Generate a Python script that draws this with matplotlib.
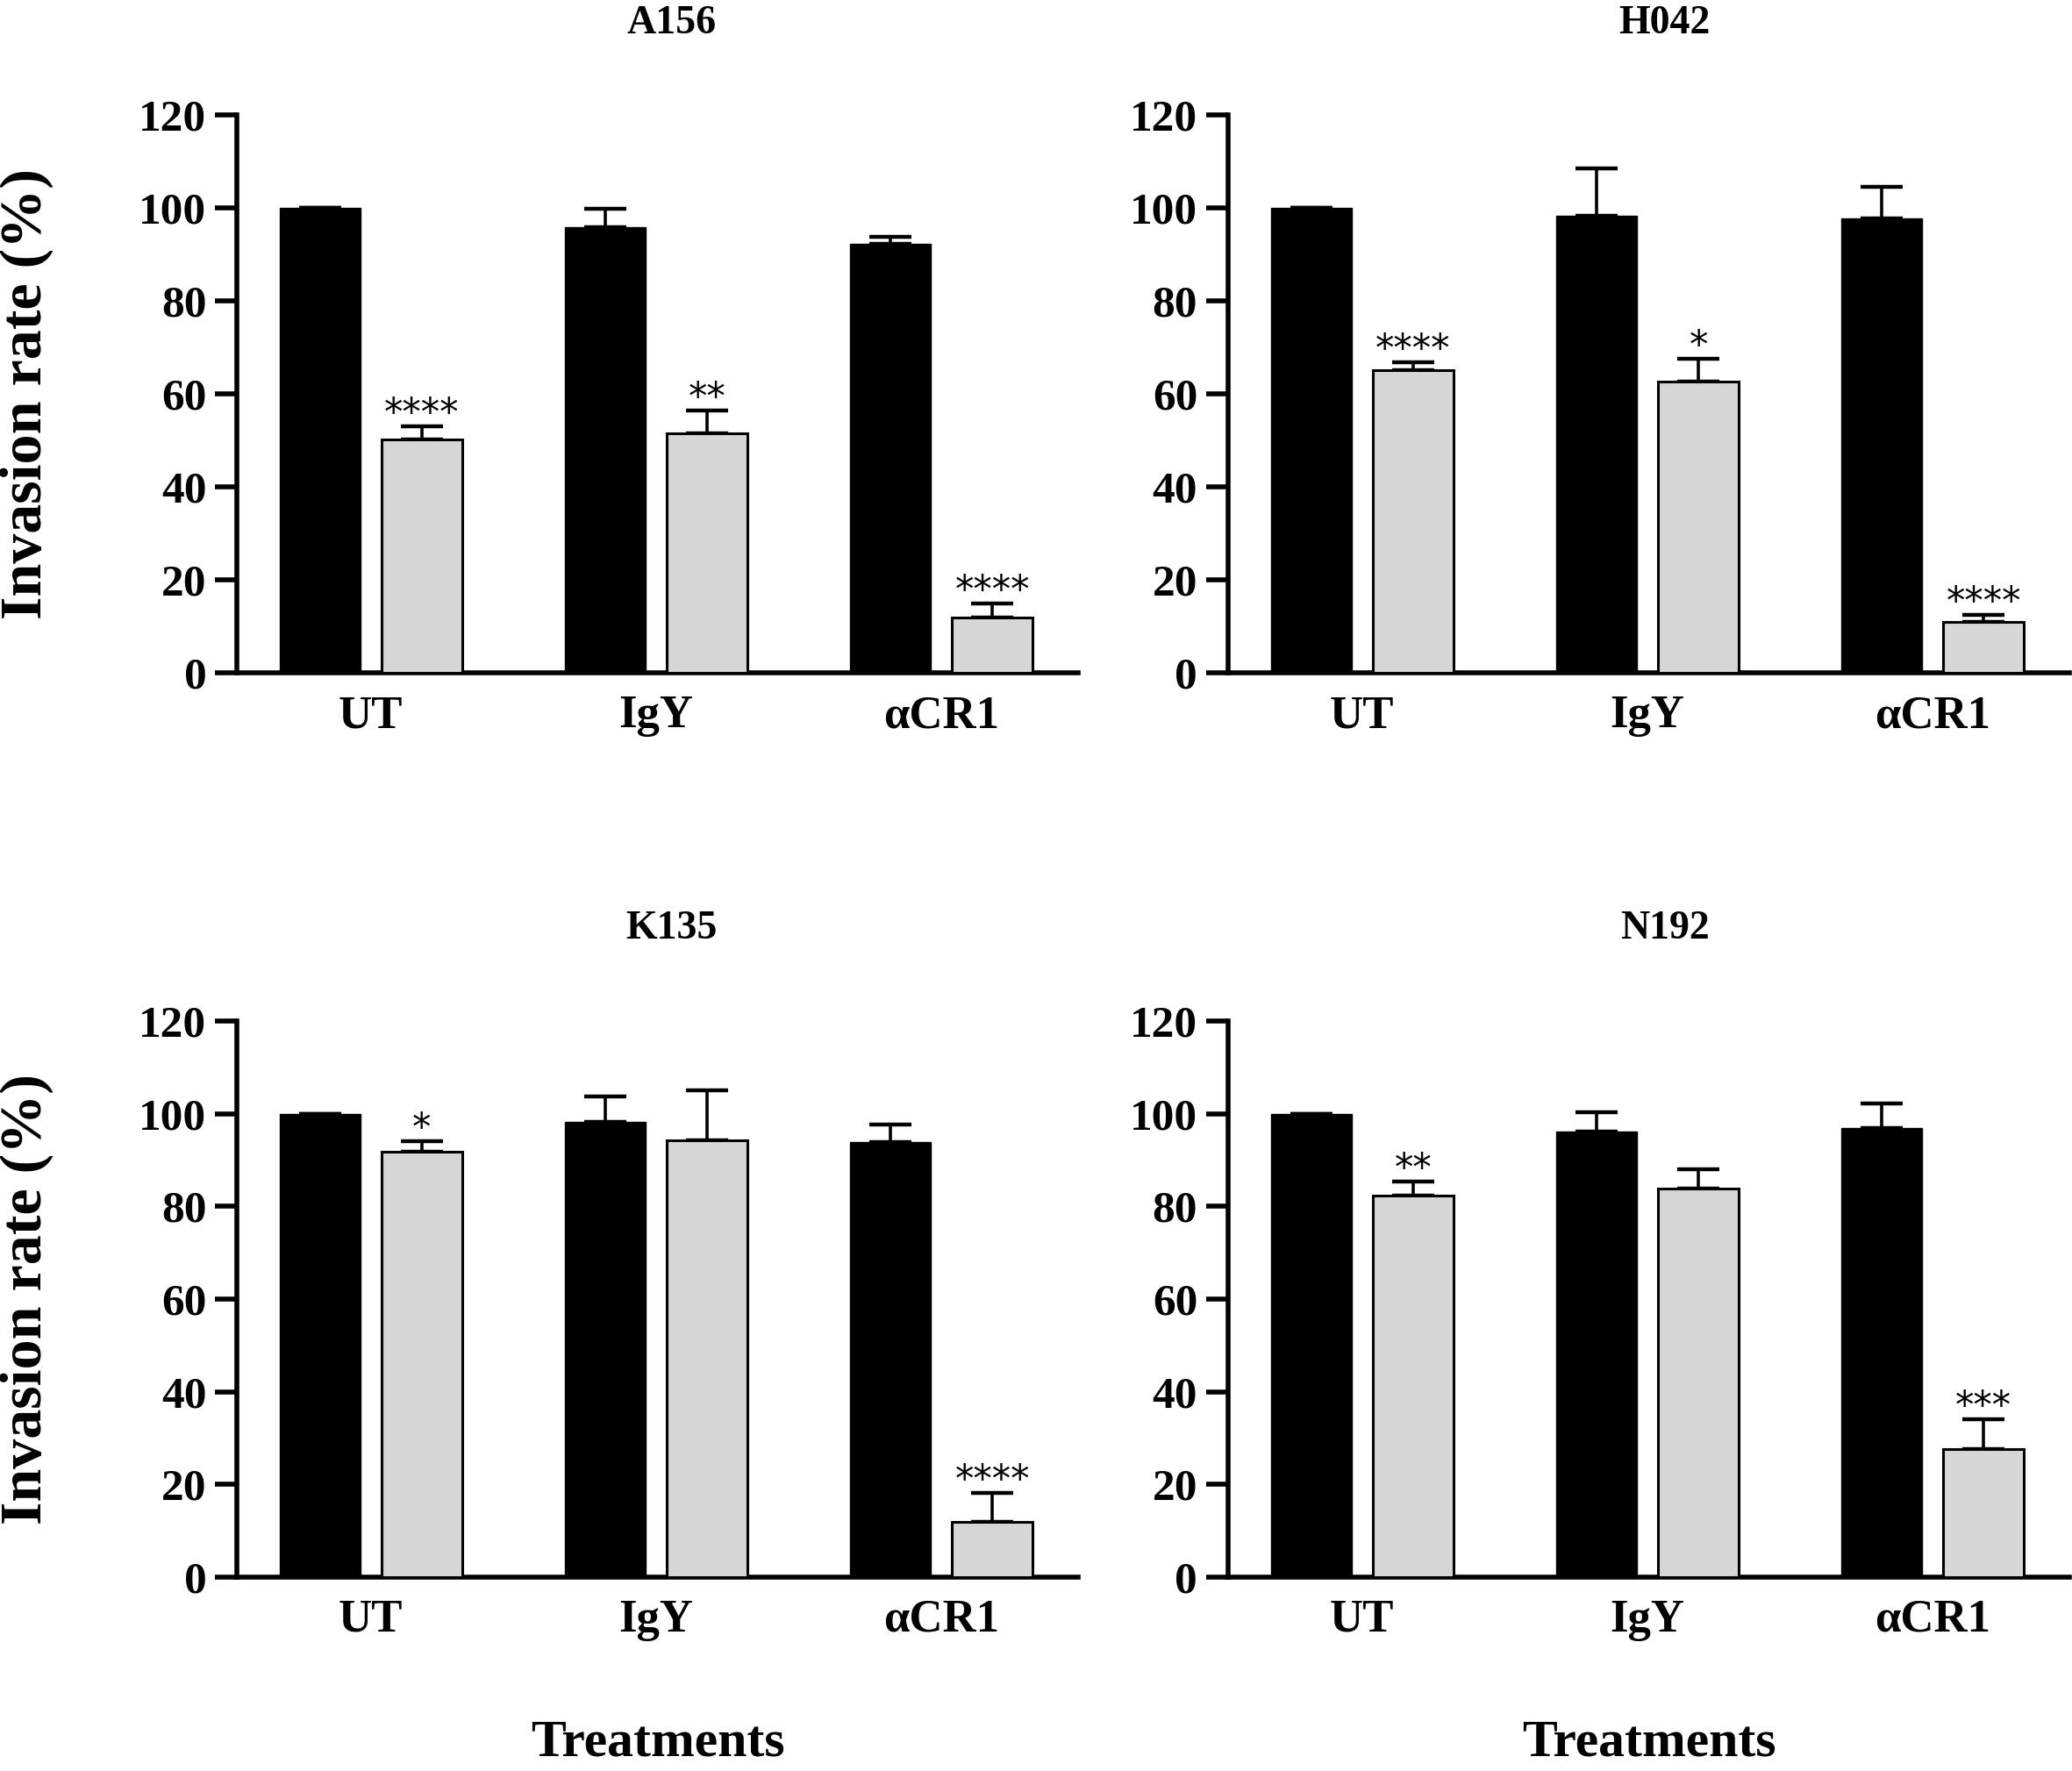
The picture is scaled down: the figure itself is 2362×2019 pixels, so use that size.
import numpy as np
import matplotlib.pyplot as plt

plt.rcParams['font.family'] = ['Liberation Serif', 'DejaVu Serif']
plt.rcParams['font.weight'] = 'bold'

treatments = ['UT', 'IgY', 'αCR1']
strains = ['A156', 'H042', 'K135', 'N192']

# black bars (control) and gray bars (treated), with upper error
black_means = {
    'A156': [100, 95.9, 92.4],
    'H042': [100, 98.4, 97.8],
    'K135': [100, 98.3, 93.9],
    'N192': [100, 96.1, 96.9],
}
black_err = {
    'A156': [0, 3.9, 1.4],
    'H042': [0, 10.1, 6.8],
    'K135': [0, 5.5, 3.7],
    'N192': [0, 4.3, 5.3],
}
gray_means = {
    'A156': [50.2, 51.5, 11.9],
    'H042': [65.1, 62.6, 11.0],
    'K135': [91.8, 94.3, 11.9],
    'N192': [82.3, 83.9, 27.6],
}
gray_err = {
    'A156': [2.9, 4.9, 3.1],
    'H042': [1.8, 5.0, 1.5],
    'K135': [2.2, 10.7, 6.3],
    'N192': [3.1, 4.1, 6.4],
}
stars = {
    'A156': ['****', '**', '****'],
    'H042': ['****', '*', '****'],
    'K135': ['*', '', '****'],
    'N192': ['**', '', '***'],
}

fig = plt.figure(figsize=(23.62, 20.19), dpi=100)
# left, bottom, width, height
boxes = {
    'A156': [0.1143, 0.620, 0.406, 0.315],
    'H042': [0.5927, 0.620, 0.406, 0.315],
    'K135': [0.1143, 0.1095, 0.406, 0.314],
    'N192': [0.5927, 0.1095, 0.406, 0.314],
}
title_pos = {
    'A156': (0.324, 0.9866),
    'H042': (0.8035, 0.9866),
    'K135': (0.324, 0.4754),
    'N192': (0.8035, 0.4754),
}

width = 0.283
off = 0.179
x = np.arange(3)

for s in strains:
    ax = fig.add_axes(boxes[s])
    ax.bar(x - off, black_means[s], width, color='black', edgecolor='black', zorder=3)
    ax.errorbar(x - off, black_means[s], yerr=[np.zeros(3), black_err[s]], fmt='none',
                ecolor='black', elinewidth=2.6, capsize=17, capthick=3.2, zorder=2)
    ax.bar(x + off, gray_means[s], width, color='#d6d6d6', edgecolor='black',
           linewidth=2.2, zorder=3)
    ax.errorbar(x + off, gray_means[s], yerr=[np.zeros(3), gray_err[s]], fmt='none',
                ecolor='black', elinewidth=2.6, capsize=17, capthick=3.2, zorder=2)
    for i in range(3):
        if stars[s][i]:
            ax.text(x[i] + off, gray_means[s][i] + gray_err[s][i] + 0.4, stars[s][i],
                    ha='center', va='baseline', fontsize=31, fontweight='normal',
                    family='DejaVu Sans')
    ax.set_ylim(0, 120)
    ax.set_xlim(-0.47, 2.48)
    ax.set_yticks(range(0, 121, 20))
    ax.set_xticks(x)
    ax.set_xticklabels(treatments, fontsize=38, fontweight='bold')
    ax.tick_params(axis='y', labelsize=37, width=4, length=18, pad=7)
    ax.tick_params(axis='x', length=0, pad=18)
    for lab in ax.get_yticklabels():
        lab.set_fontweight('bold')
    ax.spines['top'].set_visible(False)
    ax.spines['right'].set_visible(False)
    ax.spines['left'].set_linewidth(4)
    ax.spines['bottom'].set_linewidth(4)
    tx, ty = title_pos[s]
    fig.text(tx, ty, s, ha='center', va='center', fontsize=33, fontweight='bold')

# shared labels
fig.text(0.0127, 0.7776, 'Invasion rate (%)', rotation=90, ha='center', va='center',
         fontsize=49, fontweight='bold')
fig.text(0.0127, 0.2665, 'Invasion rate (%)', rotation=90, ha='center', va='center',
         fontsize=49, fontweight='bold')
fig.text(0.3175, 0.002, 'Treatments', ha='center', va='bottom', fontsize=43, fontweight='bold')
fig.text(0.796, 0.002, 'Treatments', ha='center', va='bottom', fontsize=43, fontweight='bold')

fig.savefig('out.png', dpi=100)
